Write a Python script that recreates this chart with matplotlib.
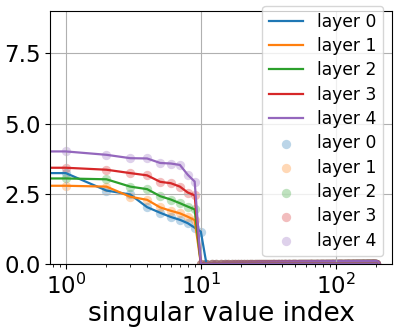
import numpy as np
import matplotlib
matplotlib.use("Agg")
import matplotlib.pyplot as plt

n_values = 200
labels = ["layer 0", "layer 1", "layer 2", "layer 3", "layer 4"]

# leading singular values (index 0 is hidden off-axis on the log scale)
head0 = [3.30, 3.24, 2.62, 2.48, 2.03, 1.83, 1.68, 1.58, 1.46, 1.30, 1.16]
head1 = [2.85, 2.79, 2.76, 2.40, 2.29, 2.02, 1.90, 1.81, 1.69, 1.57]
head2 = [3.10, 3.05, 3.02, 2.76, 2.67, 2.42, 2.30, 2.17, 2.05, 1.95]
head3 = [3.50, 3.43, 3.36, 3.24, 3.16, 2.93, 2.88, 2.76, 2.55, 2.45]
head4 = [4.10, 4.01, 3.89, 3.77, 3.76, 3.60, 3.58, 3.53, 3.18, 2.94]
heads = [head0, head1, head2, head3, head4]
tail_level = [0.02, 0.02, 0.02, 0.02, 0.02]

series = [np.array(h + [t] * (n_values - len(h))) for h, t in zip(heads, tail_level)]
idx = np.arange(n_values)

fig = plt.figure(figsize=(3.98, 3.29), dpi=100)
ax = fig.add_axes([0.1264, 0.1967, 0.8578, 0.7699])

colors = plt.rcParams['axes.prop_cycle'].by_key()['color']
for i, s in enumerate(series):
    ax.plot(idx, s, color=colors[i], lw=1.6, label=labels[i])
for i, s in enumerate(series):
    ax.scatter(idx, s, color=colors[i], alpha=0.3, s=45, linewidths=0, label=labels[i])

ax.set_xscale('log')
ax.set_ylim(0, 9)
ax.set_yticks([0, 2.5, 5.0, 7.5])
ax.grid(True, color='#b0b0b0', lw=0.8)
ax.tick_params(labelsize=16.5)
ax.set_xlabel('singular value index', fontsize=19, labelpad=1)
ax.legend(loc='upper right', bbox_to_anchor=(0.975, 1.02), borderaxespad=0,
          fontsize=12.3, labelspacing=0.37)

fig.savefig('out.png', dpi=100)
